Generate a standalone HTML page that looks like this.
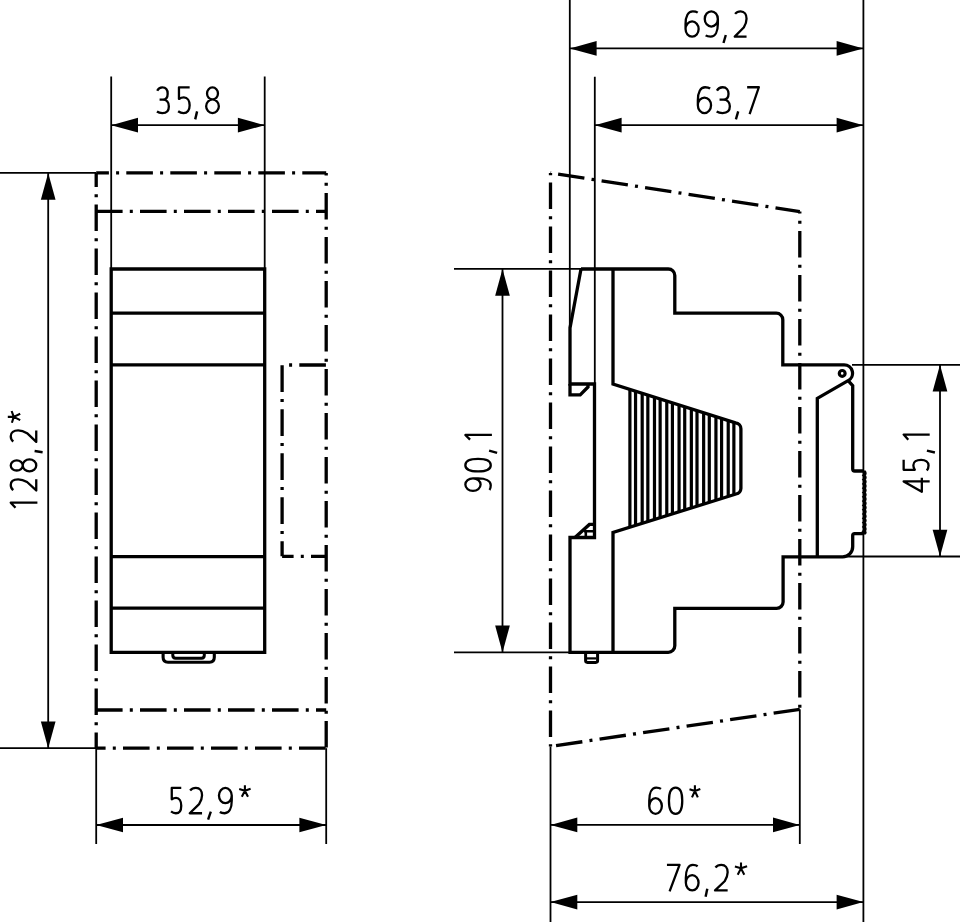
<!DOCTYPE html>
<html><head><meta charset="utf-8"><style>
html,body{margin:0;padding:0;background:#fff;width:960px;height:922px;overflow:hidden}
svg{display:block}
line,path,circle{stroke:#000;fill:none;stroke-linecap:butt;stroke-linejoin:miter}
.a{fill:#000;stroke:none}
path.g{stroke-linejoin:round}
</style></head><body>
<svg width="960" height="922" viewBox="0 0 960 922">
<line x1="111.2" y1="76.5" x2="111.2" y2="269" stroke-width="1.8"/>
<line x1="264.7" y1="76.5" x2="264.7" y2="269" stroke-width="1.8"/>
<line x1="111.2" y1="125.2" x2="264.7" y2="125.2" stroke-width="1.8"/>
<polygon class="a" points="111.2,125.2 138,117.85 138,132.55"/>
<polygon class="a" points="264.7,125.2 237.9,132.55 237.9,117.85"/>
<line x1="0" y1="172.9" x2="96.2" y2="172.9" stroke-width="1.8"/>
<line x1="0" y1="748.2" x2="96.2" y2="748.2" stroke-width="1.8"/>
<line x1="48.2" y1="172.9" x2="48.2" y2="748.2" stroke-width="1.8"/>
<polygon class="a" points="48.2,172.9 55.55,199.7 40.85,199.7"/>
<polygon class="a" points="48.2,748.2 40.85,721.4 55.55,721.4"/>
<line x1="96.2" y1="748.2" x2="96.2" y2="844" stroke-width="1.8"/>
<line x1="326.2" y1="748.2" x2="326.2" y2="844" stroke-width="1.8"/>
<line x1="96.2" y1="825" x2="326.2" y2="825" stroke-width="1.8"/>
<polygon class="a" points="96.2,825 123,817.65 123,832.35"/>
<polygon class="a" points="326.2,825 299.4,832.35 299.4,817.65"/>
<path d="M111.2,269 H264.7 V652.3 H111.2 Z" stroke-width="3.3" />
<line x1="111.2" y1="313.2" x2="264.7" y2="313.2" stroke-width="3.3"/>
<line x1="111.2" y1="364.8" x2="264.7" y2="364.8" stroke-width="3.3"/>
<line x1="111.2" y1="556.6" x2="264.7" y2="556.6" stroke-width="3.3"/>
<line x1="111.2" y1="608.1" x2="264.7" y2="608.1" stroke-width="3.3"/>
<path d="M163.1,652.3 V657.3 Q163.1,662.2 168,662.2 H209.5 Q214.3,662.2 214.3,657.3 V652.3" stroke-width="3.1" />
<path d="M172.8,652.3 V655.3 Q172.8,658.2 175.6,658.2 H201.5 Q204.3,658.2 204.3,655.3 V652.3" stroke-width="3.0" />
<line x1="96.2" y1="172.9" x2="326.2" y2="172.9" stroke-width="3.3" stroke-dasharray="26.6 7.2 3 7.2" stroke-dashoffset="13.9"/>
<line x1="96.2" y1="172.9" x2="96.2" y2="748.2" stroke-width="3.3" stroke-dasharray="26.6 7.2 3 7.2" stroke-dashoffset="12.5"/>
<line x1="326.2" y1="172.9" x2="326.2" y2="748.2" stroke-width="3.3" stroke-dasharray="26.6 7.2 3 7.2" stroke-dashoffset="23.9"/>
<line x1="96.2" y1="748.2" x2="326.2" y2="748.2" stroke-width="3.3" stroke-dasharray="26.6 7.2 3 7.2" stroke-dashoffset="17.2"/>
<line x1="96.2" y1="211.3" x2="326.2" y2="211.3" stroke-width="3.3" stroke-dasharray="26.6 7.2 3 7.2" stroke-dashoffset="0.2"/>
<line x1="96.2" y1="710" x2="326.2" y2="710" stroke-width="3.3" stroke-dasharray="26.6 7.2 3 7.2" stroke-dashoffset="0.2"/>
<line x1="282.1" y1="365" x2="326.2" y2="365" stroke-width="3.3" stroke-dasharray="26.6 7.2 3 7.2" stroke-dashoffset="26.8"/>
<line x1="282.1" y1="365" x2="282.1" y2="556.3" stroke-width="3.3" stroke-dasharray="26.6 7.2 3 7.2" stroke-dashoffset="43.7"/>
<line x1="282.1" y1="556.3" x2="326.2" y2="556.3" stroke-width="3.3" stroke-dasharray="26.6 7.2 3 7.2" stroke-dashoffset="15.1"/>
<line x1="569.8" y1="0" x2="569.8" y2="328" stroke-width="1.8"/>
<line x1="594.8" y1="76.7" x2="594.8" y2="384" stroke-width="1.8"/>
<line x1="863.4" y1="0" x2="863.4" y2="922" stroke-width="1.8"/>
<line x1="569.8" y1="48.4" x2="863.4" y2="48.4" stroke-width="1.8"/>
<polygon class="a" points="569.8,48.4 596.6,41.05 596.6,55.75"/>
<polygon class="a" points="863.4,48.4 836.6,55.75 836.6,41.05"/>
<line x1="594.8" y1="125.2" x2="863.4" y2="125.2" stroke-width="1.8"/>
<polygon class="a" points="594.8,125.2 621.6,117.85 621.6,132.55"/>
<polygon class="a" points="863.4,125.2 836.6,132.55 836.6,117.85"/>
<line x1="454" y1="268.9" x2="581" y2="268.9" stroke-width="1.8"/>
<line x1="454" y1="652.4" x2="570" y2="652.4" stroke-width="1.8"/>
<line x1="502.5" y1="268.9" x2="502.5" y2="652.4" stroke-width="1.8"/>
<polygon class="a" points="502.5,268.9 509.85,295.7 495.15,295.7"/>
<polygon class="a" points="502.5,652.4 495.15,625.6 509.85,625.6"/>
<line x1="852" y1="364.8" x2="960" y2="364.8" stroke-width="1.8"/>
<line x1="845" y1="556.5" x2="960" y2="556.5" stroke-width="1.8"/>
<line x1="940" y1="364.8" x2="940" y2="556.5" stroke-width="1.8"/>
<polygon class="a" points="940,364.8 947.35,391.6 932.65,391.6"/>
<polygon class="a" points="940,556.5 932.65,529.7 947.35,529.7"/>
<line x1="550.5" y1="746.5" x2="550.5" y2="922" stroke-width="1.8"/>
<line x1="799.8" y1="709.3" x2="799.8" y2="844" stroke-width="1.8"/>
<line x1="550.5" y1="824.9" x2="799.8" y2="824.9" stroke-width="1.8"/>
<polygon class="a" points="550.5,824.9 577.3,817.55 577.3,832.25"/>
<polygon class="a" points="799.8,824.9 773,832.25 773,817.55"/>
<line x1="550.5" y1="902.1" x2="863.4" y2="902.1" stroke-width="1.8"/>
<polygon class="a" points="550.5,902.1 577.3,894.75 577.3,909.45"/>
<polygon class="a" points="863.4,902.1 836.6,909.45 836.6,894.75"/>
<line x1="550.5" y1="172.9" x2="550.5" y2="746.5" stroke-width="3.3" stroke-dasharray="26.6 7.2 3 7.2" stroke-dashoffset="34.4"/>
<line x1="550.5" y1="172.9" x2="799.8" y2="211.6" stroke-width="3.3" stroke-dasharray="26.6 7.2 3 7.2" stroke-dashoffset="36.3"/>
<line x1="799.8" y1="211.6" x2="799.8" y2="709.3" stroke-width="3.3" stroke-dasharray="26.6 7.2 3 7.2" stroke-dashoffset="24.6"/>
<line x1="550.5" y1="746.5" x2="799.8" y2="709.3" stroke-width="3.3" stroke-dasharray="26.6 7.2 3 7.2" stroke-dashoffset="38.4"/>
<path d="M581,269 H668.3 A6.5,6.5 0 0 1 674.8,275.5 V313.2 H776.3 A6.5,6.5 0 0 1 782.8,319.7 V364.8 H844 A8.4,8.4 0 0 1 848.1,380.6 L817.3,398.4 V556.8" stroke-width="3.3" />
<path d="M848.1,380.6 L852.7,385.6 V469 Q852.7,471 854.7,471 H864" stroke-width="3.3" />
<path d="M864,471 Q866.4,473.15 864,475.3 Q866.4,477.45 864,479.6 Q866.4,481.75 864,483.9 Q866.4,486.05 864,488.2 Q866.4,490.35 864,492.5 Q866.4,494.65 864,496.8 Q866.4,498.95 864,501.1 Q866.4,503.25 864,505.4 Q866.4,507.55 864,509.7 Q866.4,511.85 864,514 Q866.4,516.15 864,518.3 Q866.4,520.45 864,522.6 Q866.4,524.75 864,526.9 Q866.4,529.05 864,531.2 Q866.4,532.4 864,533.6" stroke-width="3.0" stroke-linejoin="round"/>
<path d="M864,533.6 H854.7 Q852.7,533.6 852.7,535.6 V546.8 A10,10 0 0 1 842.7,556.8 H783.1 V602 A6.5,6.5 0 0 1 776.6,608.4 H674.8 V645.8 A6.5,6.5 0 0 1 668.3,652.3 H570 V537.5 H594.5 V384 H570 V328 L581,269" stroke-width="3.3" />
<path d="M570,384 V394.9 H580.2 L588,387 V384" stroke-width="3.3" />
<path d="M575,537.5 L589.4,524.4 H594.5" stroke-width="3.4" />
<path d="M584,531.2 H594.5 M585.8,531.2 V537.5" stroke-width="2.6" />
<path d="M613,269 V384 L735.5,422.8 A6,6 0 0 1 740.9,429 V488.5 A6,6 0 0 1 736,494 L613,532.4 V652.3" stroke-width="3.3" />
<circle cx="842.2" cy="373.4" r="2.9" stroke-width="3.2"/>
<path d="M585.6,652.3 V660.6 Q585.6,662.4 587.4,662.4 H595.8 Q597.6,662.4 597.6,660.6 V652.3" stroke-width="3.0" />
<path d="M587,658.4 H596.2" stroke-width="2.2" />
<line x1="629.9" y1="389.44" x2="629.9" y2="527.05" stroke-width="3.2"/>
<line x1="635.55" y1="391.22" x2="635.55" y2="525.28" stroke-width="3.2"/>
<line x1="642.19" y1="393.33" x2="642.19" y2="523.2" stroke-width="3.2"/>
<line x1="647.84" y1="395.12" x2="647.84" y2="521.43" stroke-width="3.2"/>
<line x1="654.48" y1="397.22" x2="654.48" y2="519.35" stroke-width="3.2"/>
<line x1="660.13" y1="399.01" x2="660.13" y2="517.59" stroke-width="3.2"/>
<line x1="666.77" y1="401.11" x2="666.77" y2="515.51" stroke-width="3.2"/>
<line x1="672.42" y1="402.9" x2="672.42" y2="513.74" stroke-width="3.2"/>
<line x1="679.06" y1="405" x2="679.06" y2="511.66" stroke-width="3.2"/>
<line x1="684.71" y1="406.79" x2="684.71" y2="509.89" stroke-width="3.2"/>
<line x1="691.35" y1="408.89" x2="691.35" y2="507.81" stroke-width="3.2"/>
<line x1="697" y1="410.68" x2="697" y2="506.05" stroke-width="3.2"/>
<line x1="703.64" y1="412.78" x2="703.64" y2="503.97" stroke-width="3.2"/>
<line x1="709.29" y1="414.57" x2="709.29" y2="502.2" stroke-width="3.2"/>
<line x1="715.93" y1="416.67" x2="715.93" y2="500.12" stroke-width="3.2"/>
<line x1="721.58" y1="418.46" x2="721.58" y2="498.35" stroke-width="3.2"/>
<line x1="728.22" y1="420.56" x2="728.22" y2="496.27" stroke-width="3.2"/>
<line x1="733.87" y1="422.35" x2="733.87" y2="494.51" stroke-width="3.2"/>
<path class="g" d="M157.19,90.73 C158.38,88.43 160.28,87.4 162.31,87.4 C165.88,87.4 167.66,90.22 167.66,93.81 C167.66,97.66 165.88,99.71 162.9,99.71 L159.57,99.71 M162.9,99.71 C166.71,99.71 168.85,102.53 168.85,106.38 C168.85,110.48 166.47,113.05 162.31,113.05 C160.28,113.05 158.38,112.54 156.95,111.51" stroke-width="2.3"/><path class="g" d="M189.65,87.4 L178.96,87.4 L178.96,98.94 C180.45,97.92 182.18,97.4 183.9,97.4 C187.35,97.4 189.65,100.74 189.65,105.35 C189.65,109.97 187.35,113.05 183.56,113.05 C181.6,113.05 179.88,112.54 178.15,111.25" stroke-width="2.3"/><path class="g" d="M197.1,111.4 L195.2,119.4" stroke-width="2.4"/><path class="g" d="M212.5,87.4 C215.52,87.4 217.96,90.1 217.96,93.43 C217.96,96.76 215.52,99.46 212.5,99.46 C209.48,99.46 207.04,96.76 207.04,93.43 C207.04,90.1 209.48,87.4 212.5,87.4 ZM212.5,99.46 C216.01,99.46 218.85,102.5 218.85,106.25 C218.85,110.01 216.01,113.05 212.5,113.05 C208.99,113.05 206.15,110.01 206.15,106.25 C206.15,102.5 208.99,99.46 212.5,99.46 Z" stroke-width="2.3"/>
<path class="g" d="M181.25,787.95 L171.76,787.95 L171.76,799.33 C173.09,798.32 174.62,797.82 176.15,797.82 C179.21,797.82 181.25,801.11 181.25,805.66 C181.25,810.21 179.21,813.25 175.84,813.25 C174.11,813.25 172.58,812.74 171.05,811.48" stroke-width="2.3"/><path class="g" d="M190.12,790.48 C191.59,788.71 193.44,787.95 195.9,787.95 C199.84,787.95 202.05,790.99 202.05,795.29 C202.05,798.58 201.07,801.11 199.1,804.14 L189.75,813.25 L202.05,813.25" stroke-width="2.3"/><path class="g" d="M210.8,811.6 L208.1,819.6" stroke-width="2.4"/><path class="g" d="M219.85,811.99 C220.87,812.74 222.53,813.25 224.71,813.25 C229.19,813.25 231.75,808.19 231.75,800.6 L231.75,795.54 M225.35,787.95 C228.88,787.95 231.75,791.35 231.75,795.54 C231.75,799.73 228.88,803.13 225.35,803.13 C221.82,803.13 218.95,799.73 218.95,795.54 C218.95,791.35 221.82,787.95 225.35,787.95 Z" stroke-width="2.3"/><path class="g" d="M244.9,785.2 L244.9,790.72 M239.2,789 L244.9,790.72 L250.6,788.77 M241.82,796.7 L244.9,790.72 L247.98,796.7" stroke-width="2.1"/>
<path class="g" d="M697.73,12.62 C696.68,11.86 694.98,11.35 692.75,11.35 C688.17,11.35 685.55,16.41 685.55,24 L685.55,29.06 M692.1,21.47 C695.72,21.47 698.65,24.87 698.65,29.06 C698.65,33.25 695.72,36.65 692.1,36.65 C688.48,36.65 685.55,33.25 685.55,29.06 C685.55,24.87 688.48,21.47 692.1,21.47 Z" stroke-width="2.3"/><path class="g" d="M705.67,35.38 C706.72,36.14 708.42,36.65 710.64,36.65 C715.23,36.65 717.85,31.59 717.85,24 L717.85,18.94 M711.3,11.35 C714.92,11.35 717.85,14.75 717.85,18.94 C717.85,23.13 714.92,26.53 711.3,26.53 C707.68,26.53 704.75,23.13 704.75,18.94 C704.75,14.75 707.68,11.35 711.3,11.35 Z" stroke-width="2.3"/><path class="g" d="M725.8,35 L723.5,43" stroke-width="2.4"/><path class="g" d="M735.1,13.88 C736.52,12.11 738.29,11.35 740.65,11.35 C744.43,11.35 746.55,14.39 746.55,18.69 C746.55,21.98 745.61,24.51 743.72,27.54 L734.75,36.65 L746.55,36.65" stroke-width="2.3"/>
<path class="g" d="M710.13,88.54 C709.07,87.77 707.35,87.25 705.11,87.25 C700.49,87.25 697.85,92.41 697.85,100.15 L697.85,105.31 M704.45,97.57 C708.1,97.57 711.05,101.04 711.05,105.31 C711.05,109.58 708.1,113.05 704.45,113.05 C700.8,113.05 697.85,109.58 697.85,105.31 C697.85,101.04 700.8,97.57 704.45,97.57 Z" stroke-width="2.3"/><path class="g" d="M716.91,90.6 C718.23,88.28 720.35,87.25 722.59,87.25 C726.55,87.25 728.53,90.09 728.53,93.7 C728.53,97.57 726.55,99.63 723.25,99.63 L719.55,99.63 M723.25,99.63 C727.47,99.63 729.85,102.47 729.85,106.34 C729.85,110.47 727.21,113.05 722.59,113.05 C720.35,113.05 718.23,112.53 716.65,111.5" stroke-width="2.3"/><path class="g" d="M738.2,111.4 L735.9,119.4" stroke-width="2.4"/><path class="g" d="M747.15,87.25 L758.85,87.25 L749.61,114.08" stroke-width="2.3"/>
<path class="g" d="M660.97,788.96 C659.96,788.17 658.32,787.65 656.18,787.65 C651.77,787.65 649.25,792.89 649.25,800.75 L649.25,805.99 M655.55,798.13 C659.03,798.13 661.85,801.65 661.85,805.99 C661.85,810.33 659.03,813.85 655.55,813.85 C652.07,813.85 649.25,810.33 649.25,805.99 C649.25,801.65 652.07,798.13 655.55,798.13 Z" stroke-width="2.3"/><path class="g" d="M675.6,787.65 C680.39,787.65 682.25,793.41 682.25,800.75 C682.25,808.09 680.39,813.85 675.6,813.85 C670.81,813.85 668.95,808.09 668.95,800.75 C668.95,793.41 670.81,787.65 675.6,787.65 Z" stroke-width="2.3"/><path class="g" d="M694.9,785.2 L694.9,791.06 M689.5,789.23 L694.9,791.06 L700.3,788.98 M691.98,797.4 L694.9,791.06 L697.82,797.4" stroke-width="2.1"/>
<path class="g" d="M666.95,864.95 L679.55,864.95 L669.6,891.47" stroke-width="2.3"/><path class="g" d="M697.66,866.22 C696.64,865.46 694.99,864.95 692.84,864.95 C688.39,864.95 685.85,870.05 685.85,877.7 L685.85,882.8 M692.2,875.15 C695.71,875.15 698.55,878.57 698.55,882.8 C698.55,887.03 695.71,890.45 692.2,890.45 C688.69,890.45 685.85,887.03 685.85,882.8 C685.85,878.57 688.69,875.15 692.2,875.15 Z" stroke-width="2.3"/><path class="g" d="M707.3,888.8 L705.6,896.8" stroke-width="2.4"/><path class="g" d="M715.43,867.5 C716.94,865.71 718.83,864.95 721.35,864.95 C725.38,864.95 727.65,868.01 727.65,872.34 C727.65,875.66 726.64,878.21 724.63,881.27 L715.05,890.45 L727.65,890.45" stroke-width="2.3"/><path class="g" d="M741,862.5 L741,868.36 M734.9,866.53 L741,868.36 L747.1,866.28 M737.71,874.7 L741,868.36 L744.29,874.7" stroke-width="2.1"/>
<g transform="translate(37.4,0) rotate(-90)"><path class="g" d="M-507.85,-21.92 L-502.65,-26.65 L-502.65,0" stroke-width="2.3"/><path class="g" d="M-490.12,-24.1 C-488.79,-25.88 -487.12,-26.65 -484.9,-26.65 C-481.35,-26.65 -479.35,-23.59 -479.35,-19.25 C-479.35,-15.94 -480.24,-13.39 -482.01,-10.33 L-490.45,-1.15 L-479.35,-1.15" stroke-width="2.3"/><path class="g" d="M-465.4,-26.65 C-462.57,-26.65 -460.28,-23.97 -460.28,-20.66 C-460.28,-17.35 -462.57,-14.66 -465.4,-14.66 C-468.23,-14.66 -470.52,-17.35 -470.52,-20.66 C-470.52,-23.97 -468.23,-26.65 -465.4,-26.65 ZM-465.4,-14.66 C-462.11,-14.66 -459.45,-11.64 -459.45,-7.91 C-459.45,-4.18 -462.11,-1.15 -465.4,-1.15 C-468.69,-1.15 -471.35,-4.18 -471.35,-7.91 C-471.35,-11.64 -468.69,-14.66 -465.4,-14.66 Z" stroke-width="2.3"/><path class="g" d="M-451,-2.8 L-452.2,5.2" stroke-width="2.4"/><path class="g" d="M-441.51,-24.1 C-440.14,-25.88 -438.43,-26.65 -436.15,-26.65 C-432.5,-26.65 -430.45,-23.59 -430.45,-19.25 C-430.45,-15.94 -431.36,-13.39 -433.19,-10.33 L-441.85,-1.15 L-430.45,-1.15" stroke-width="2.3"/><path class="g" d="M-416.9,-29.6 L-416.9,-23.65 M-422.8,-25.51 L-416.9,-23.65 L-411,-25.76 M-420.09,-17.2 L-416.9,-23.65 L-413.71,-17.2" stroke-width="2.1"/></g>
<g transform="translate(929.7,0) rotate(-90)"><path class="g" d="M-439.65,-21.43 L-434.55,-26.05 L-434.55,0" stroke-width="2.3"/><path class="g" d="M-450.7,-2.8 L-452.5,5.2" stroke-width="2.4"/><path class="g" d="M-459.85,-26.05 L-469.8,-26.05 L-469.8,-14.85 C-468.41,-15.84 -466.81,-16.34 -465.2,-16.34 C-461.99,-16.34 -459.85,-13.1 -459.85,-8.62 C-459.85,-4.14 -461.99,-1.15 -465.52,-1.15 C-467.34,-1.15 -468.94,-1.65 -470.55,-2.89" stroke-width="2.3"/><path class="g" d="M-481.46,-0.03 L-481.46,-26.05 L-491.75,-7.87 L-477.85,-7.87" stroke-width="2.3"/></g>
<g transform="translate(491.9,0) rotate(-90)"><path class="g" d="M-439.65,-21.84 L-434.95,-26.55 L-434.95,0" stroke-width="2.3"/><path class="g" d="M-450.7,-2.8 L-452.9,5.2" stroke-width="2.4"/><path class="g" d="M-465.2,-26.55 C-460.7,-26.55 -458.95,-20.96 -458.95,-13.85 C-458.95,-6.74 -460.7,-1.15 -465.2,-1.15 C-469.7,-1.15 -471.45,-6.74 -471.45,-13.85 C-471.45,-20.96 -469.7,-26.55 -465.2,-26.55 Z" stroke-width="2.3"/><path class="g" d="M-489.98,-2.42 C-488.98,-1.66 -487.35,-1.15 -485.23,-1.15 C-480.85,-1.15 -478.35,-6.23 -478.35,-13.85 L-478.35,-18.93 M-484.6,-26.55 C-481.15,-26.55 -478.35,-23.14 -478.35,-18.93 C-478.35,-14.72 -481.15,-11.31 -484.6,-11.31 C-488.05,-11.31 -490.85,-14.72 -490.85,-18.93 C-490.85,-23.14 -488.05,-26.55 -484.6,-26.55 Z" stroke-width="2.3"/></g>
</svg>
</body></html>
